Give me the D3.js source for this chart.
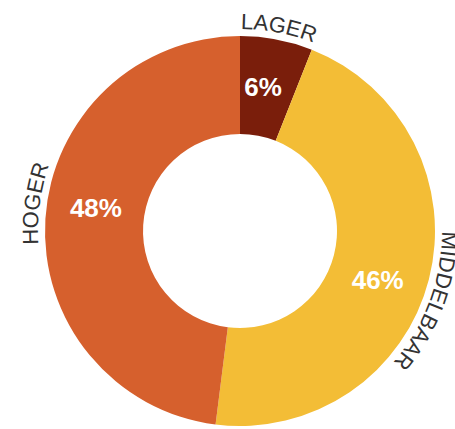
<!DOCTYPE html>
<meta charset="utf-8">
<html>
<head>
<script src="https://d3js.org/d3.v7.min.js"></script>
<style>
  body { margin: 0; background: #fff; }
  text { font-family: "Liberation Sans", Arial, sans-serif; }
</style>
</head>
<body>
<svg width="455" height="429"></svg>
<script>

var categories = ["LAGER", "MIDDELBAAR", "HOGER"];
var values = [6, 46, 48];
var colors = ["#7a1e0b", "#f3bd36", "#d6602d"];

var svg = d3.select("svg"),
    cx = 240,
    cy = 231,
    outer = 195,
    inner = 97;

// small hand tweaks (degrees) so the labels sit where the original puts them
var pctShift = [-1.7, 5, 5.7];
var lblShift = [0, 6, 4];

var data = categories.map(function(c, i) { return {name: c, value: values[i], color: colors[i], i: i}; });

var pie = d3.pie()
    .sort(null)
    .value(function(d) { return d.value; });

var arc = d3.arc()
    .innerRadius(inner)
    .outerRadius(outer);

var arcs = pie(data);

function rad(deg) { return deg * Math.PI / 180; }

var g = svg.append("g")
    .attr("transform", "translate(" + cx + "," + cy + ")");

g.selectAll("path.slice")
  .data(arcs)
  .enter().append("path")
    .attr("class", "slice")
    .attr("d", arc)
    .attr("fill", function(d) { return d.data.color; });

var pr = (inner + outer) / 2;
g.selectAll("text.pct")
  .data(arcs)
  .enter().append("text")
    .attr("class", "pct")
    .attr("transform", function(d) {
      var a = (d.startAngle + d.endAngle) / 2 + rad(pctShift[d.data.i]);
      return "translate(" + (pr * Math.sin(a)) + "," + (-pr * Math.cos(a)) + ")";
    })
    .attr("text-anchor", "middle")
    .attr("dy", "0.36em")
    .attr("fill", "#fff")
    .style("font-weight", "bold")
    .style("font-size", "26px")
    .text(function(d) { return d.data.value + "%"; });

// clockwise half-circle paths centred on each label angle
var r = outer + 7;
g.selectAll("path.lp")
  .data(arcs)
  .enter().append("path")
    .attr("class", "lp")
    .attr("id", function(d, i) { return "lp" + i; })
    .attr("fill", "none")
    .attr("d", function(d) {
      var mid = (d.startAngle + d.endAngle) / 2 + rad(lblShift[d.data.i]);
      var a0 = mid - Math.PI / 2, a1 = mid + Math.PI / 2;
      var x0 = r * Math.sin(a0), y0 = -r * Math.cos(a0);
      var x1 = r * Math.sin(a1), y1 = -r * Math.cos(a1);
      return "M" + x0 + "," + y0 + "A" + r + "," + r + " 0 0,1 " + x1 + "," + y1;
    });

g.selectAll("text.lbl")
  .data(arcs)
  .enter().append("text")
    .attr("class", "lbl")
    .attr("fill", "#333")
    .style("font-size", "22px")
    .append("textPath")
      .attr("href", function(d, i) { return "#lp" + i; })
      .attr("startOffset", "50%")
      .attr("text-anchor", "middle")
      .text(function(d) { return d.data.name; });

</script>
</body>
</html>
